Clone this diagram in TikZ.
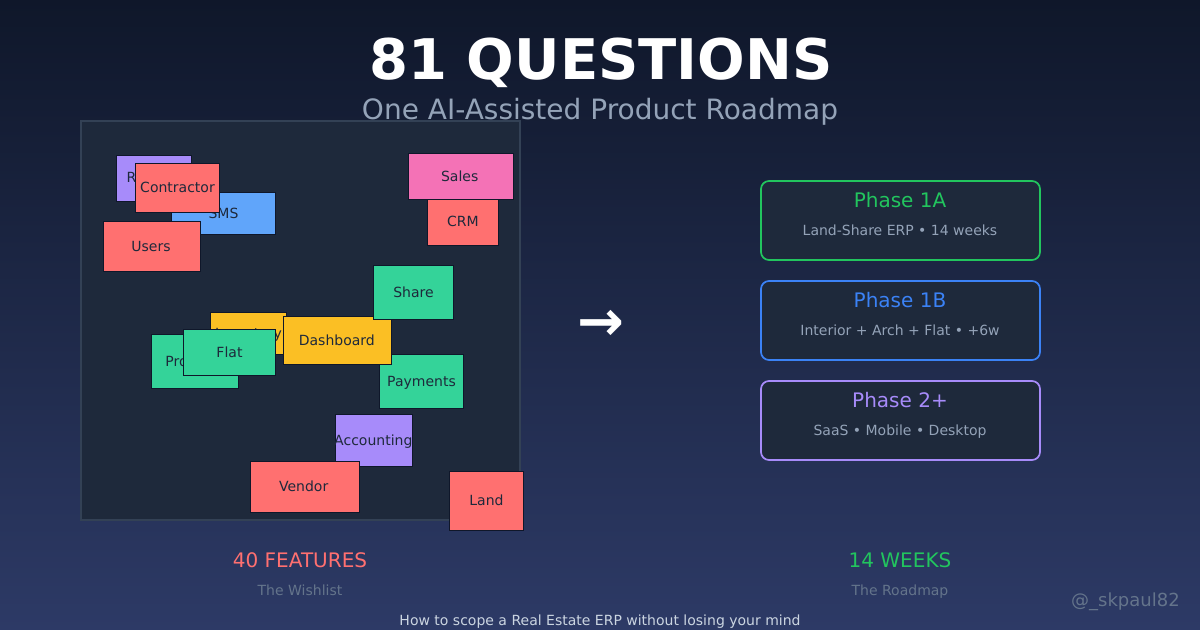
\documentclass[tikz,border=0pt]{standalone}
\usepackage{fontspec}
\setmainfont{DejaVu Sans}
\definecolor{bgtop}{HTML}{0F172A}
\definecolor{bgbot}{HTML}{2D3A66}
\definecolor{panel}{HTML}{1E293B}
\definecolor{panelline}{HTML}{334155}
\definecolor{ink}{HTML}{0F172A}
\definecolor{cred}{HTML}{FF7070}
\definecolor{cblue}{HTML}{60A5FA}
\definecolor{cpurple}{HTML}{A78BFA}
\definecolor{cgreen}{HTML}{34D399}
\definecolor{cyellow}{HTML}{FBBF24}
\definecolor{cpink}{HTML}{F472B6}
\definecolor{pgreen}{HTML}{22C55E}
\definecolor{pblue}{HTML}{3B82F6}
\definecolor{ppurple}{HTML}{A78BFA}
\definecolor{slatea}{HTML}{94A3B8}
\definecolor{slateb}{HTML}{64748B}
\definecolor{slatec}{HTML}{CBD5E1}
\newcommand{\up}[1]{\raisebox{0.75pt}{#1}}
\tikzset{
  x=0.75pt,y=-0.75pt,
  card/.style n args={3}{draw=ink,line width=0.75pt,fill=#1,minimum width=#2*0.75pt,minimum height=#3*0.75pt,inner sep=0pt,
    text=panel,font=\fontsize{10.5pt}{12pt}\selectfont,text height=9.5pt,text depth=1.25pt,align=center,anchor=center},
  phasebox/.style={draw=#1,fill=panel,line width=1.3pt,rounded corners=6pt,minimum width=279*0.75pt,minimum height=79*0.75pt,inner sep=0pt},
  lab/.style={anchor=base,inner sep=0pt,outer sep=0pt},
}
\begin{document}
\begin{tikzpicture}
\useasboundingbox (0,0) rectangle (1200,630);
\shade[top color=bgtop,bottom color=bgbot,shading angle=0] (0,0) rectangle (1200,630);
\node[lab,text=white,font=\fontsize{42pt}{50pt}\selectfont\bfseries] (title) at (601,80) {81 QUESTIONS};
\node[lab,text=slatea,font=\fontsize{21pt}{25pt}\selectfont] (subtitle) at (600,120) {One AI-Assisted Product Roadmap};
\node[draw=panelline,fill=panel,line width=1.5pt,minimum width=439*0.75pt,minimum height=399*0.75pt,inner sep=0pt] (board) at (300.5,320.5) {};
\node[card={cpurple}{75}{46}] (reports) at (153.5,178.5) {\up{Reports}};
\node[card={cblue}{104}{42}] (sms) at (223.5,213.5) {SMS};
\node[card={cred}{84}{49}] (contractor) at (177.5,188) {\up{Contractor}};
\node[card={cred}{97}{50}] (users) at (152,246.5) {\hspace{-1.5pt}Users};
\node[card={cred}{71}{46}] (crm) at (463,222.5) {\up{CRM}};
\node[card={cpink}{105}{46}] (sales) at (461,176.5) {\hspace{-2pt}Sales};
\node[card={cyellow}{76}{42}] (inventory) at (248.5,333.5) {Inventory};
\node[card={cgreen}{87}{54}] (property) at (195,361.5) {Property};
\node[card={cgreen}{92}{46}] (flat) at (229.5,352.5) {Flat};
\node[card={cgreen}{84}{54}] (payments) at (421.5,381.5) {Payments};
\node[card={cyellow}{108}{48}] (dashboard) at (337.5,340.5) {\hspace{-1pt}Dashboard};
\node[card={cgreen}{80}{54}] (share) at (413.5,292.5) {Share};
\node[card={cpurple}{76}{52}] (accounting) at (374,440.5) {\hspace{-1pt}Accounting};
\node[card={cred}{109}{51}] (vendor) at (305,487) {\up{\hspace{-2pt}Vendor}};
\node[card={cred}{74}{59}] (land) at (486.5,501) {\up{Land}};
\node[anchor=center,inner sep=0pt,text=white,font=\fontsize{42pt}{46pt}\selectfont\bfseries] (arrow) at (601,325) {→};
\node[phasebox=pgreen] (p1) at (900.5,220.5) {};
\node[phasebox=pblue] (p2) at (900.5,320.5) {};
\node[phasebox=ppurple] (p3) at (900.5,420.5) {};
\node[lab,text=pgreen,font=\fontsize{15pt}{18pt}\selectfont] (p1t) at (900,208) {Phase 1A};
\node[lab,text=slatea,font=\fontsize{10.5pt}{13pt}\selectfont] (p1s) at (900,236) {Land-Share ERP • 14 weeks};
\node[lab,text=pblue,font=\fontsize{15pt}{18pt}\selectfont] (p2t) at (900,308) {Phase 1B};
\node[lab,text=slatea,font=\fontsize{10.5pt}{13pt}\selectfont] (p2s) at (900,336) {Interior + Arch + Flat • +6w};
\node[lab,text=ppurple,font=\fontsize{15pt}{18pt}\selectfont] (p3t) at (900,408) {Phase 2+};
\node[lab,text=slatea,font=\fontsize{10.5pt}{13pt}\selectfont] (p3s) at (900,436) {SaaS • Mobile • Desktop};
\node[lab,text=cred,font=\fontsize{15pt}{18pt}\selectfont] (lf) at (300,568) {40 FEATURES};
\node[lab,text=slateb,font=\fontsize{10.5pt}{13pt}\selectfont] (lw) at (300,595) {The Wishlist};
\node[lab,text=pgreen,font=\fontsize{15pt}{18pt}\selectfont] (rf) at (900,568) {14 WEEKS};
\node[lab,text=slateb,font=\fontsize{10.5pt}{13pt}\selectfont] (rw) at (900,595) {The Roadmap};
\node[anchor=base east,inner sep=0pt,text=slateb,font=\fontsize{13.5pt}{16pt}\selectfont] (mark) at (1180,607) {@\_skpaul82};
\node[lab,text=slatec,font=\fontsize{10.5pt}{13pt}\selectfont] (foot) at (600,625) {How to scope a Real Estate ERP without losing your mind};
\end{tikzpicture}
\end{document}
